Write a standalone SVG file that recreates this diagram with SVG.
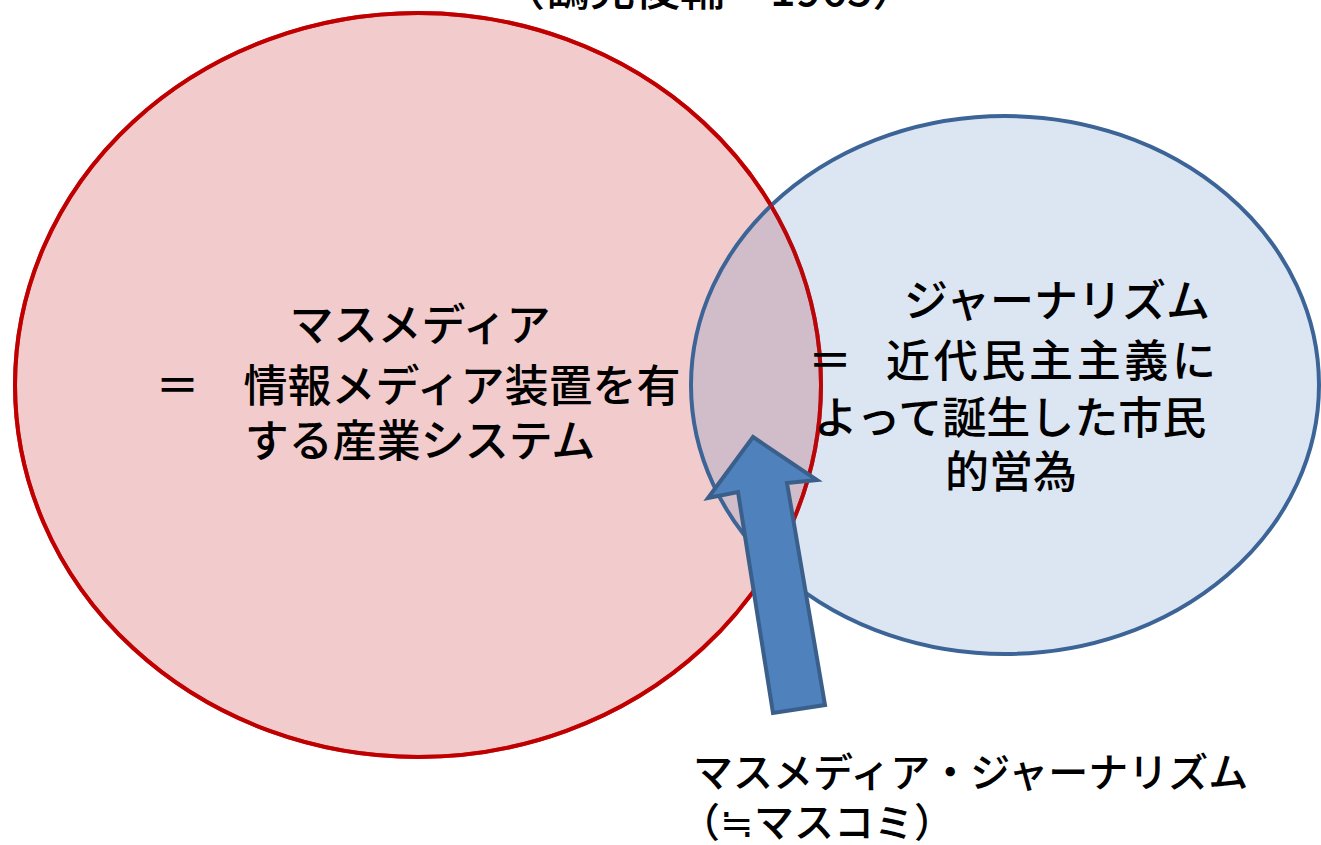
<svg xmlns="http://www.w3.org/2000/svg" width="1321" height="845" viewBox="0 0 1321 845">
<style>
.t{font-family:"Noto Sans CJK JP","Noto Sans",sans-serif;fill:#000;font-weight:500;}
.l{font-size:44px;}
.b{font-size:40px;}
</style>
<rect width="1321" height="845" fill="#fff"/>
<g id="source-note">
<text class="t" x="500" y="6" font-size="45">（鶴見俊輔　1965）</text>
</g>
<g id="mass-media">
<ellipse cx="418" cy="385" rx="403" ry="372" fill="#C00000" fill-opacity="0.2" stroke="#C00000" stroke-width="4"/>
</g>
<g id="journalism">
<ellipse cx="1005" cy="385" rx="314" ry="269" fill="#4F81BD" fill-opacity="0.2" stroke="#3C6496" stroke-width="4"/>
<ellipse cx="418" cy="385" rx="403" ry="372" fill="none" stroke="#C00000" stroke-width="4" stroke-opacity="0.75"/>
</g>
<g id="mass-media-label">
<text class="t l" x="420" y="341" text-anchor="middle">マスメディア</text>
<text class="t l" x="418" y="402" text-anchor="middle">＝　情報メディア装置を有</text>
<text class="t l" x="420" y="457" text-anchor="middle">する産業システム</text>
</g>
<g id="journalism-label">
<text class="t l" x="1057" y="317" text-anchor="middle">ジャーナリズム</text>
<text class="t l" x="808" y="377">＝</text>
<text class="t l" x="886" y="377" textLength="330" lengthAdjust="spacing">近代民主主義に</text>
<text class="t l" x="1010" y="434" text-anchor="middle">よって誕生した市民</text>
<text class="t l" x="1011" y="488" text-anchor="middle">的営為</text>
</g>
<g id="connectors">
<polygon points="753,437 817,480 787,483 825,705 773,713 738,492 708,498" fill="#4F81BD" stroke="#3A5F8B" stroke-width="4" stroke-linejoin="miter"/>
</g>
<g id="masscomi-label">
<text class="t b" x="693" y="787">マスメディア・ジャーナリズム</text>
<text class="t b" x="680" y="837">（≒マスコミ）</text>
</g>
</svg>
